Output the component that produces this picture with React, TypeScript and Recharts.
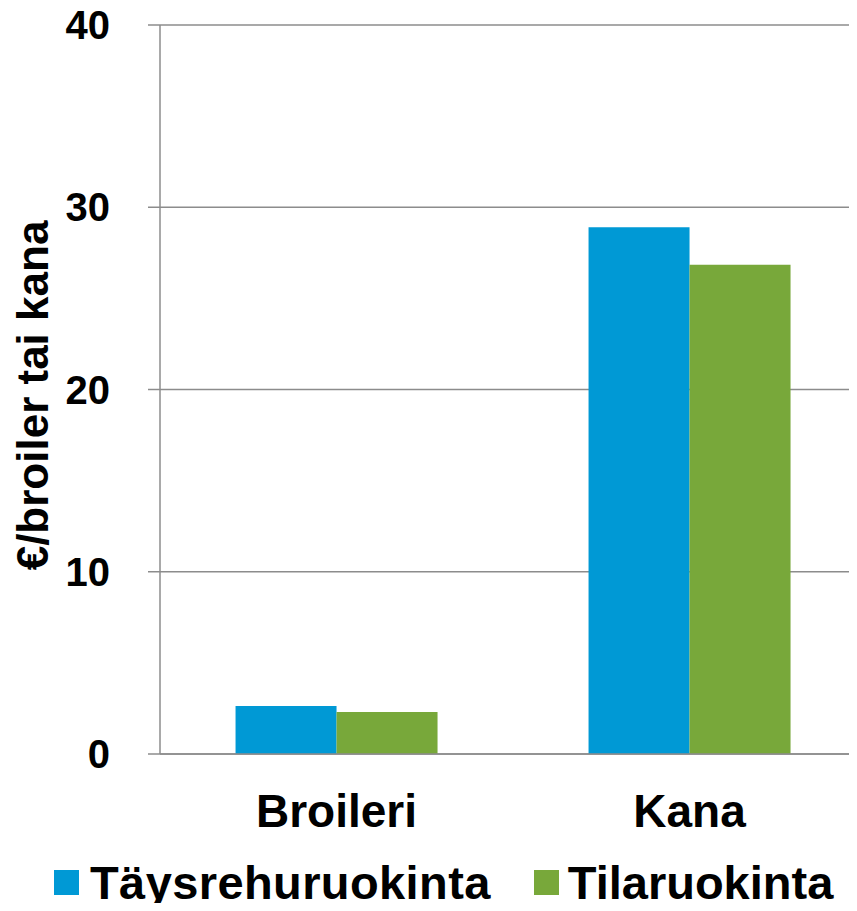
import { BarChart, Bar, XAxis, YAxis, CartesianGrid } from 'recharts';

const categories = ['Broileri', 'Kana'];
const taysrehu = [2.64, 28.9];
const tila = [2.31, 26.85];
const yTicks = [0, 10, 20, 30, 40];
const seriesNames = ['Täysrehuruokinta', 'Tilaruokinta'];

const BLUE = '#0099D5';
const GREEN = '#78A83A';
const GRID = '#8c8c8c';
const FONT = '"Liberation Sans", Arial, sans-serif';

const data = categories.map((name, i) => ({ name, taysrehu: taysrehu[i], tila: tila[i] }));

function YLabel(props: any) {
    const vb = props.viewBox || {};
    const cx = 32;
    const cy = (vb.y ?? 25) + (vb.height ?? 729) / 2 + 6;
    return (
        <text
            x={cx}
            y={cy}
            transform={`rotate(-90 ${cx} ${cy})`}
            textAnchor="middle"
            dominantBaseline="central"
            fontFamily={FONT}
            fontWeight="bold"
            fontSize={44}
            fill="#000"
        >
            €/broiler tai kana
        </text>
    );
}

export default function App() {
    return (
        <div style={{ position: 'relative', margin: -8, width: 857, height: 911, overflow: 'hidden', background: '#fff' }}>
            <BarChart
                width={870}
                height={911}
                data={data}
                margin={{ top: 25, right: 4, bottom: 0, left: 0 }}
                barCategoryGap="21.4%"
                barGap={0}
            >
                <CartesianGrid horizontal vertical={false} stroke={GRID} strokeWidth={1.5} />
                <XAxis
                    dataKey="name"
                    height={157}
                    axisLine={{ stroke: GRID, strokeWidth: 1.5 }}
                    tickLine={false}
                    tickSize={0}
                    tickMargin={40}
                    tick={{ fontFamily: FONT, fontWeight: 'bold', fontSize: 46, fill: '#000' }}
                />
                <YAxis
                    width={160}
                    domain={[0, 40]}
                    ticks={yTicks}
                    interval={0}
                    axisLine={{ stroke: GRID, strokeWidth: 1.5 }}
                    tickLine={{ stroke: GRID, strokeWidth: 1.5 }}
                    tickSize={12}
                    tickMargin={38}
                    tick={{ fontFamily: FONT, fontWeight: 'bold', fontSize: 40, fill: '#000' }}
                    label={<YLabel />}
                />
                <Bar dataKey="taysrehu" name={seriesNames[0]} fill={BLUE} isAnimationActive={false} />
                <Bar dataKey="tila" name={seriesNames[1]} fill={GREEN} isAnimationActive={false} />
            </BarChart>
            <div
                style={{
                    position: 'absolute',
                    top: 859,
                    left: 54,
                    display: 'flex',
                    alignItems: 'center',
                    fontFamily: FONT,
                    fontWeight: 'bold',
                    fontSize: 47,
                    lineHeight: 1,
                    color: '#000',
                    whiteSpace: 'nowrap',
                }}
            >
                <span style={{ width: 25, height: 25, background: BLUE, display: 'inline-block', marginRight: 11 }} />
                <span style={{ marginRight: 43, letterSpacing: 0.4 }}>{seriesNames[0]}</span>
                <span style={{ width: 25, height: 25, background: GREEN, display: 'inline-block', marginRight: 9 }} />
                <span>{seriesNames[1]}</span>
            </div>
        </div>
    );
}
